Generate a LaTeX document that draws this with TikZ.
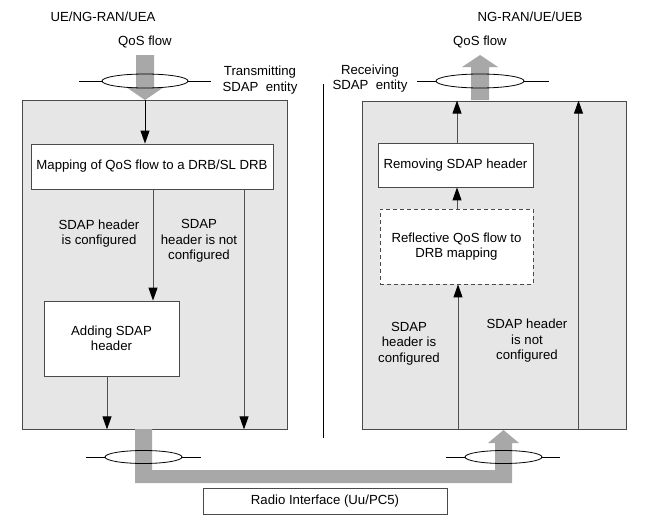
\documentclass[tikz,border=0pt]{standalone}
\usepackage{fontspec}
\setmainfont{Liberation Sans}
\usetikzlibrary{arrows.meta}
\definecolor{boxfill}{HTML}{E6E6E6}
\definecolor{boxline}{HTML}{4A4A4A}
\definecolor{flowgray}{HTML}{A8A8A8}
\definecolor{inline}{HTML}{505050}
\begin{document}
\begin{tikzpicture}[x=1pt,y=-1pt,
  every node/.style={font=\fontsize{13.2}{15.5}\selectfont, inner sep=0pt},
  entity/.style={draw=boxline, line width=0.8pt, fill=boxfill},
  proc/.style={draw=boxline, line width=0.8pt, fill=white, align=center},
  dproc/.style={draw=boxline, line width=0.8pt, fill=white, align=center, dash pattern=on 4pt off 3pt},
  lbl/.style={align=center},
  arr/.style={draw=inline, line width=0.9pt, -{Triangle[width=9pt,length=13pt,color=black,fill=black]}},
  flow/.style={fill=flowgray, draw=none},
  ring/.style={draw=black, line width=0.8pt}
]
\useasboundingbox (0,0) rectangle (669,522);

% entity boxes
\node[entity, minimum width=264.5pt, minimum height=329pt] (txbox) at (154.75,264.5) {};
\node[entity, minimum width=264pt, minimum height=328pt] (rxbox) at (494,265) {};

% separator
\draw[line width=0.8pt] (323,84) -- (323,438);

% top-left QoS flow arrow
\fill[flow] (136,55) -- (154,55) -- (154,87) -- (164,87) -- (145,100) -- (126,87) -- (136,87) -- cycle;
% top-right QoS flow arrow
\fill[flow] (471,100) -- (489,100) -- (489,67) -- (498,67) -- (480,55) -- (462,67) -- (471,67) -- cycle;
% bottom flow through radio interface
\fill[flow] (135,429) -- (152,429) -- (152,470) -- (495,470) -- (495,443) -- (488,443) -- (503.5,430) -- (519,443) -- (512,443) -- (512,483) -- (135,483) -- cycle;

% rings
\draw[ring] (79,81) -- (102,81);
\draw[ring] (188,81) -- (211,81);
\draw[ring] (145,81) ellipse [x radius=43pt, y radius=7pt];
\draw[ring] (417,81) -- (436,81);
\draw[ring] (524,81) -- (549,81);
\draw[ring] (480,81) ellipse [x radius=44pt, y radius=7pt];
\draw[ring] (86,457) -- (105,457);
\draw[ring] (182,457) -- (201,457);
\draw[ring] (143.5,457) ellipse [x radius=38.5pt, y radius=6.5pt];
\draw[ring] (446,457) -- (465,457);
\draw[ring] (542,457) -- (560,457);
\draw[ring] (503.5,457) ellipse [x radius=38.5pt, y radius=6.5pt];

% process boxes
\node[proc, minimum width=242pt, minimum height=45pt] (map) at (152,166.5) {Mapping of QoS flow to a DRB/SL DRB};
\node[proc, minimum width=135pt, minimum height=75pt] (adding) at (111.5,338.5) {Adding SDAP\\header};
\node[proc, minimum width=155pt, minimum height=44pt] (remove) at (455.5,165) {Removing SDAP header};
\node[dproc, minimum width=153pt, minimum height=75pt] (refl) at (456.5,246.5) {Reflective QoS flow to\\DRB mapping};
\node[proc, minimum width=244pt, minimum height=26pt] (radio) at (325,501) {Radio Interface (Uu/PC5)};

% labels
\node (src) at (103,17) {UE/NG-RAN/UEA};
\node (qin) at (145,42) {QoS flow};
\node[lbl] (txent) at (260,80) {Transmitting\\SDAP\ \ entity};
\node (dst) at (530,17) {NG-RAN/UE/UEB};
\node (qout) at (480,42) {QoS flow};
\node[lbl] (rxent) at (370,78.5) {Receiving\\SDAP\ \ entity};
\node[lbl] (lcfg) at (99,233.5) {SDAP header\\is configured};
\node[lbl] (lncfg) at (199,241) {SDAP\\header is not\\configured};
\node[lbl] (rcfg) at (409,343.5) {SDAP\\header is\\configured};
\node[lbl] (rncfg) at (527,341) {SDAP header\\is not\\configured};

% connectors, transmitting side
\draw[arr, draw=black] (145,0 |- txbox.north) -- (145,0 |- map.north);
\draw[arr] (153,0 |- map.south) -- (153,0 |- adding.north);
\draw[arr] (244,0 |- map.south) -- (244,0 |- txbox.south);
\draw[arr] (107,0 |- adding.south) -- (107,0 |- txbox.south);

% connectors, receiving side
\draw[arr] (458,0 |- rxbox.south) -- (458,0 |- refl.south);
\draw[arr] (457,0 |- refl.north) -- (457,0 |- remove.south);
\draw[arr] (457,0 |- remove.north) -- (457,0 |- rxbox.north);
\draw[arr] (578.5,0 |- rxbox.south) -- (578.5,0 |- rxbox.north);
\end{tikzpicture}
\end{document}
